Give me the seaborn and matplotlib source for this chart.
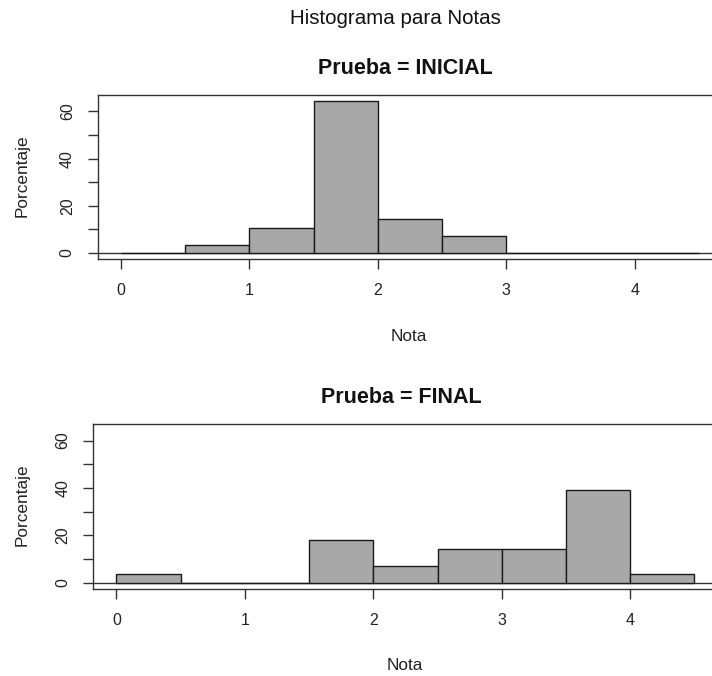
import numpy as np
import pandas as pd
import matplotlib
matplotlib.use("Agg")
import matplotlib.pyplot as plt
import seaborn as sns

# ---- data ----
bin_edges = [0.0, 0.5, 1.0, 1.5, 2.0, 2.5, 3.0, 3.5, 4.0, 4.5]
pct_inicial = [0.0, 3.57, 10.71, 64.29, 14.29, 7.14, 0.0, 0.0, 0.0]
pct_final = [3.57, 0.0, 0.0, 17.86, 7.14, 14.29, 14.29, 39.29, 3.57]
groups = ["INICIAL", "FINAL"]
x_ticks = [0, 1, 2, 3, 4]
y_ticks = [0, 10, 20, 30, 40, 50, 60]
y_ticklabels = ["0", "", "20", "", "40", "", "60"]

sns.set_style("white")
plt.rcParams["font.family"] = ["Liberation Sans", "DejaVu Sans"]

W, H = 712, 676
fig = plt.figure(figsize=(W / 100, H / 100), dpi=100)

mids = [(a + b) / 2 for a, b in zip(bin_edges[:-1], bin_edges[1:])]
frames = {
    "INICIAL": pd.DataFrame({"Nota": mids, "Porcentaje": pct_inicial}),
    "FINAL": pd.DataFrame({"Nota": mids, "Porcentaje": pct_final}),
}

ymax = max(max(pct_inicial), max(pct_final))
xr = bin_edges[-1] - bin_edges[0]

# axes boxes in pixels: (left, top, right, bottom)
boxes = {"INICIAL": (97.7, 95.3, 722.0, 259.0), "FINAL": (93.3, 424.3, 717.6, 588.7)}
edge_col = "#333333"

for g in groups:
    l, t, r, b = boxes[g]
    ax = fig.add_axes([l / W, 1 - b / H, (r - l) / W, (b - t) / H])
    sns.histplot(data=frames[g], x="Nota", weights="Porcentaje", bins=bin_edges,
                 stat="count", ax=ax, color="#a8a8a8", edgecolor="#1a1a1a",
                 linewidth=1.0, alpha=1.0)
    ax.axhline(0, color=edge_col, lw=1.0, zorder=0.5)
    ax.set_xlim(bin_edges[0] - 0.04 * xr, bin_edges[-1] + 0.04 * xr)
    ax.set_ylim(-0.04 * ymax, ymax * 1.04)
    ax.set_xlabel("")
    ax.set_ylabel("")
    ax.set_xticks(x_ticks)
    ax.set_xticklabels([str(v) for v in x_ticks])
    ax.set_yticks(y_ticks)
    ax.set_yticklabels(y_ticklabels)
    for s in ax.spines.values():
        s.set_color(edge_col)
        s.set_linewidth(1.0)
    ax.tick_params(axis="both", direction="out", length=7.5, width=1.0,
                   color=edge_col, labelsize=11.5, labelcolor="#222222",
                   left=True, bottom=True)
    ax.tick_params(axis="x", pad=10)
    ax.tick_params(axis="y", pad=9)
    for lab in ax.get_yticklabels():
        lab.set_rotation(90)
        lab.set_va("center")
        lab.set_ha("right")

    cx = (l + r) / 2 - 4
    fig.text(cx / W, 1 - (t - 27) / H, f"Prueba = {g}", ha="center", va="center",
             fontsize=15.5, fontweight="bold", color="#111111")
    fig.text(409 / W - (97.7 - l) / W, 1 - (b + 77.3) / H, "Nota", ha="center",
             va="center", fontsize=12.4, color="#222222")
    fig.text(22.5 / W, 1 - ((t + b) / 2 - 1.5) / H, "Porcentaje", ha="center",
             va="center", rotation=90, fontsize=12.4, color="#222222")

fig.text(395 / W, 1 - 18.7 / H, "Histograma para Notas", ha="center", va="center",
         fontsize=14.8, color="#111111")

fig.savefig("out.png", dpi=100)
